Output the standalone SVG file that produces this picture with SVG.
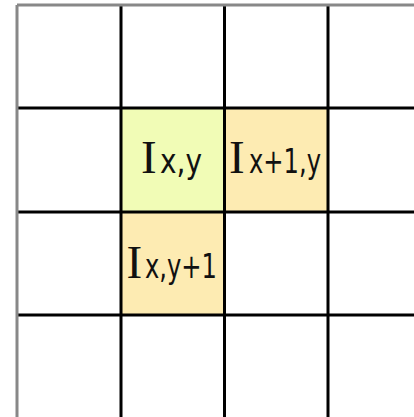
<svg xmlns="http://www.w3.org/2000/svg" width="414" height="417" viewBox="0 0 414 417">
<style>
.grid{stroke:#000;stroke-width:3;fill:none}
.border{stroke:#888;stroke-width:3;fill:none}
.big{font-family:"Liberation Serif","DejaVu Serif",serif;font-size:47px;fill:#111}
.sub{font-family:"DejaVu Sans Condensed","DejaVu Sans",sans-serif;font-size:33px;fill:#111}
</style>
<rect x="0" y="0" width="414" height="417" fill="#fff"/>
<g id="cell-xy">
<rect x="121" y="108" width="103.5" height="104" fill="#f1fcb6"/>
<text class="big" x="141" y="173">I</text>
<text class="sub" x="160" y="173" textLength="42" lengthAdjust="spacingAndGlyphs">x,y</text>
</g>
<g id="cell-x1y">
<rect x="224.5" y="108" width="103.5" height="104" fill="#fdebb2"/>
<text class="big" x="229" y="173">I</text>
<text class="sub" x="249" y="173" textLength="72" lengthAdjust="spacingAndGlyphs">x+1,y</text>
</g>
<g id="cell-xy1">
<rect x="121" y="212" width="103.5" height="103" fill="#fdebb2"/>
<text class="big" x="126.5" y="278">I</text>
<text class="sub" x="145" y="278" textLength="72" lengthAdjust="spacingAndGlyphs">x,y+1</text>
</g>
<g id="grid">
<line class="grid" x1="121" y1="5" x2="121" y2="417"/>
<line class="grid" x1="224.5" y1="5" x2="224.5" y2="417"/>
<line class="grid" x1="328" y1="5" x2="328" y2="417"/>
<line class="grid" x1="17" y1="108" x2="414" y2="108"/>
<line class="grid" x1="17" y1="212" x2="414" y2="212"/>
<line class="grid" x1="17" y1="315" x2="414" y2="315"/>
<line class="border" x1="17" y1="5" x2="414" y2="5"/>
<line class="border" x1="17" y1="5" x2="17" y2="417"/>
</g>
</svg>
